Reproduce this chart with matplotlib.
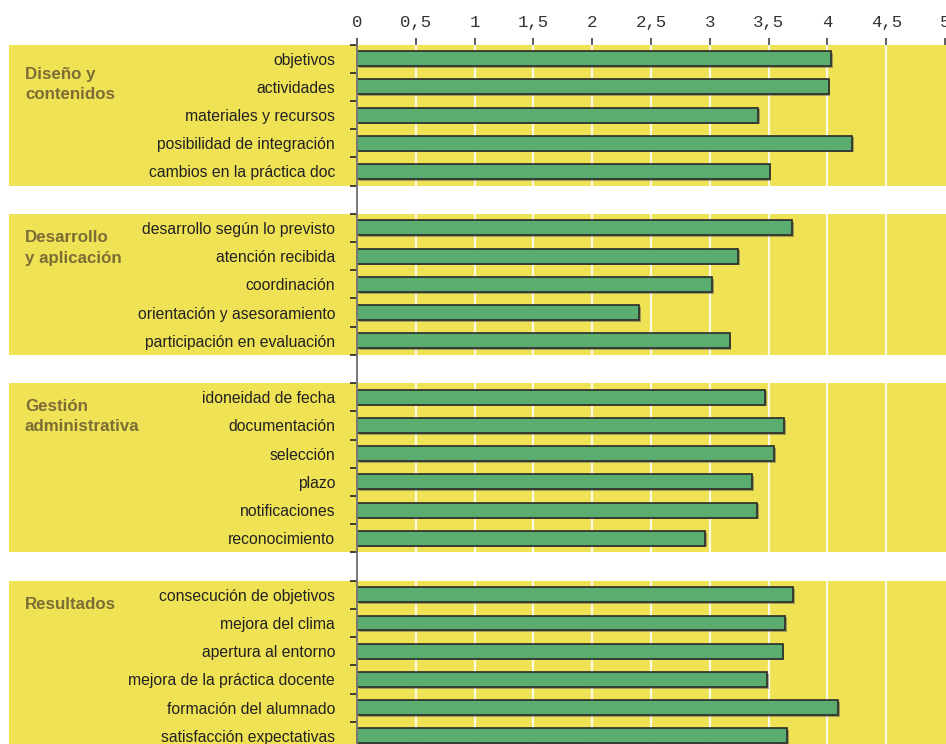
import matplotlib
matplotlib.use("Agg")
import matplotlib.pyplot as plt
import matplotlib.patheffects as pe
from matplotlib.transforms import blended_transform_factory
from matplotlib.patches import Rectangle

groups = ["Diseño y\ncontenidos", "Desarrollo\ny aplicación", "Gestión\nadministrativa", "Resultados"]

cat_diseno = ["objetivos", "actividades", "materiales y recursos",
              "posibilidad de integración", "cambios en la práctica doc"]
val_diseno = [4.03, 4.01, 3.41, 4.21, 3.51]

cat_desarrollo = ["desarrollo según lo previsto", "atención recibida", "coordinación",
                  "orientación y asesoramiento", "participación en evaluación"]
val_desarrollo = [3.70, 3.24, 3.02, 2.40, 3.17]

cat_gestion = ["idoneidad de fecha", "documentación", "selección", "plazo",
               "notificaciones", "reconocimiento"]
val_gestion = [3.47, 3.63, 3.55, 3.36, 3.40, 2.96]

cat_resultados = ["consecución de objetivos", "mejora del clima", "apertura al entorno",
                  "mejora de la práctica docente", "formación del alumnado",
                  "satisfacción expectativas"]
val_resultados = [3.71, 3.64, 3.62, 3.49, 4.09, 3.66]

xticks = [0, 0.5, 1, 1.5, 2, 2.5, 3, 3.5, 4, 4.5, 5]
xtick_labels = ["0", "0,5", "1", "1,5", "2", "2,5", "3", "3,5", "4", "4,5", "5"]

YELLOW = "#efe255"
GREEN = "#5aad6e"
OLIVE = "#7b6d35"

W, H = 946, 744
fig = plt.figure(figsize=(W / 100, H / 100), dpi=100)
top_px, bottom_px = 44.5, 750
left_px, right_px = 357, 945
ax = fig.add_axes([left_px / W, 1 - bottom_px / H, (right_px - left_px) / W, (bottom_px - top_px) / H])

all_cats = [cat_diseno, cat_desarrollo, cat_gestion, cat_resultados]
all_vals = [val_diseno, val_desarrollo, val_gestion, val_resultados]
# vertical offset of group-label first line centre relative to group's first row
label_offsets = [0.50, 0.31, 0.28, 0.34]

trans = blended_transform_factory(ax.transAxes, ax.transData)
band_left = (9 - left_px) / (right_px - left_px)
band_right = (W + 5 - left_px) / (right_px - left_px)
half_line = 6.2 / 28.2

positions, labels, values = [], [], []
pos = 0
for gi, (cats, vals) in enumerate(zip(all_cats, all_vals)):
    start = pos
    for c, v in zip(cats, vals):
        positions.append(pos)
        labels.append(c)
        values.append(v)
        pos += 1
    end = pos - 1
    ax.add_patch(Rectangle((band_left, start - 0.5), band_right - band_left, end - start + 1,
                           transform=trans, facecolor=YELLOW, edgecolor="none",
                           clip_on=False, zorder=0))
    gx = band_left + 16 / (right_px - left_px)
    if "\n" in groups[gi]:
        ax.text(gx, start + label_offsets[gi] - half_line, groups[gi], transform=trans,
                ha="left", va="top", fontsize=12.2, fontweight="bold", color=OLIVE,
                family="Liberation Sans", linespacing=1.45)
    else:
        ax.text(gx, start + label_offsets[gi], groups[gi], transform=trans,
                ha="left", va="center", fontsize=12.2, fontweight="bold", color=OLIVE,
                family="Liberation Sans")
    pos += 1  # gap slot
last = positions[-1]

# white gridlines (visible only on yellow)
for xv in xticks[1:-1]:
    ax.axvline(xv, color="white", lw=1.6, alpha=0.85, zorder=1)

bars = ax.barh(positions, values, height=0.53, color=GREEN, edgecolor="#2a2a2a",
               linewidth=1.2, zorder=3)
for b in bars:
    b.set_path_effects([pe.SimplePatchShadow(offset=(1.2, -1.2), shadow_rgbFace="#555", alpha=0.5),
                        pe.Normal()])

ax.set_xlim(0, 5)
ax.set_ylim(last + 0.5, -0.5)
ax.set_facecolor("none")

ax.set_yticks(positions)
ax.set_yticklabels(labels, fontsize=11.3, family="Liberation Sans", color="#222")
ax.tick_params(axis="y", which="major", length=0, pad=15.8)
ax.set_yticks([p - 0.5 for p in range(last + 2)], minor=True)
ax.tick_params(axis="y", which="minor", length=5, width=1.2, color="#222", direction="out")

ax.xaxis.tick_top()
ax.set_xticks(xticks)
ax.set_xticklabels(xtick_labels, family="Liberation Mono", fontsize=12.5, color="#333")
ax.tick_params(axis="x", which="major", length=5, width=1.2, color="#444", pad=5.5, direction="out")

for s in ["right", "bottom", "top"]:
    ax.spines[s].set_visible(False)
ax.spines["left"].set_color("#777")
ax.spines["left"].set_linewidth(1.4)
ax.spines["left"].set_zorder(4)

fig.savefig("out.png", dpi=100)
